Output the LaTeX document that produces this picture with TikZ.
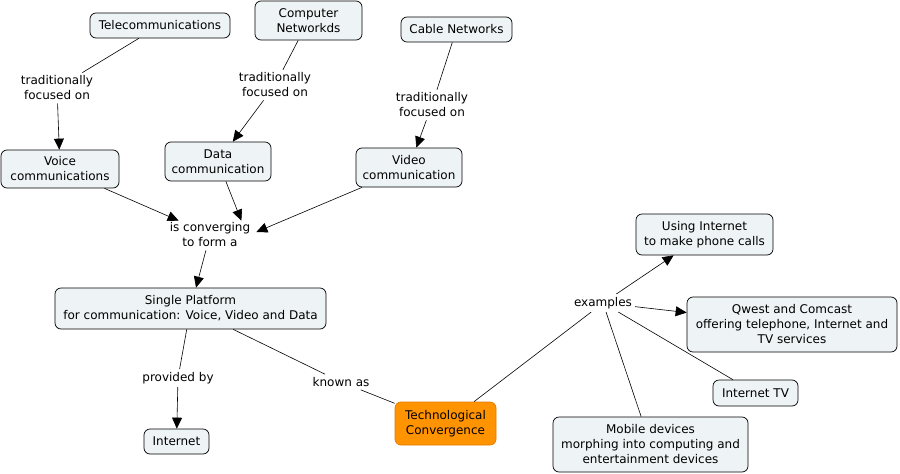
\documentclass[tikz,border=0pt]{standalone}
\usepackage{fontspec}
\setmainfont{DejaVu Sans}
\usetikzlibrary{arrows.meta,calc}
\definecolor{boxfill}{HTML}{EEF3F5}
\definecolor{orfill}{HTML}{FF9300}
\definecolor{ordraw}{HTML}{E07A00}
\tikzset{
  concept/.style={draw=black, fill=boxfill, rounded corners=6pt, align=center, inner sep=2pt,
    font=\fontsize{12}{15}\selectfont, line width=0.7pt},
  keycon/.style={concept, fill=orfill, draw=ordraw},
  linkl/.style={align=center, inner sep=3pt, font=\fontsize{12}{15}\selectfont},
  conn/.style={line width=0.6pt},
  arr/.style={conn, -{Triangle[length=11pt,width=10pt]}},
}
\begin{document}
\begin{tikzpicture}[x=1pt,y=-1pt]
\useasboundingbox (0,0) rectangle (900,474);
% concepts
\node[concept, minimum width=140, minimum height=25] (tel) at (160,25.5) {Telecommunications};
\node[concept, minimum width=107, minimum height=39] (comp) at (308.5,20.5) {Computer\\Networkds};
\node[concept, minimum width=111, minimum height=25] (cab) at (456.5,29.5) {Cable Networks};
\node[concept, minimum width=118, minimum height=38] (voice) at (60,169) {Voice\\communications};
\node[concept, minimum width=106, minimum height=39] (data) at (218,161.5) {Data\\communication};
\node[concept, minimum width=106, minimum height=39] (video) at (409,167.5) {Video\\communication};
\node[concept, minimum width=271, minimum height=41] (single) at (190.5,308.5) {Single Platform\\for communication: Voice, Video and Data};
\node[concept, minimum width=65, minimum height=25] (inet) at (176.5,441.5) {Internet};
\node[keycon, minimum width=101, minimum height=43] (tech) at (445.5,423.5) {Technological\\Convergence};
\node[concept, minimum width=137, minimum height=41] (phone) at (704.5,234.5) {Using Internet\\to make phone calls};
\node[concept, minimum width=210, minimum height=55] (qwest) at (792,324.5) {Qwest and Comcast\\offering telephone, Internet and\\TV services};
\node[concept, minimum width=85, minimum height=26] (itv) at (755.5,393) {Internet TV};
\node[concept, minimum width=195, minimum height=55] (mob) at (650.5,444.5) {Mobile devices\\morphing into computing and\\entertainment devices};
% linking phrases
\node[linkl] (l1) at (57,88) {traditionally\\focused on};
\node[linkl] (l2) at (275,85) {traditionally\\focused on};
\node[linkl] (l3) at (432,105) {traditionally\\focused on};
\node[linkl] (conv) at (210,235) {is converging\\to form a};
\node[linkl] (prov) at (178,378) {provided by};
\node[linkl] (known) at (341,382) {known as};
\node[linkl] (ex) at (603,303) {examples};
% connectors
\draw[conn] (tel) -- (l1);
\draw[arr] (l1) -- (voice);
\draw[conn] (comp) -- (l2);
\draw[arr] (l2) -- (data);
\draw[conn] (cab) -- (l3);
\draw[arr] (l3) -- (video);
\draw[arr] (voice) -- ($(conv.north west)+(12,1)$);
\draw[arr] (data) -- ($(conv.north east)+(-12,1)$);
\draw[arr] (video) -- ($(conv.east)+(3,-3)$);
\draw[arr] (conv) -- (single);
\draw[conn] (single) -- (prov);
\draw[arr] (prov) -- (inet);
\draw[conn] (single) -- (known);
\draw[conn] (known) -- (tech);
\draw[conn] (tech) -- (ex);
\draw[arr] (ex) -- (phone);
\draw[arr] (ex) -- (qwest);
\draw[conn] (ex) -- (itv);
\draw[conn] (ex) -- (mob);
\end{tikzpicture}
\end{document}
